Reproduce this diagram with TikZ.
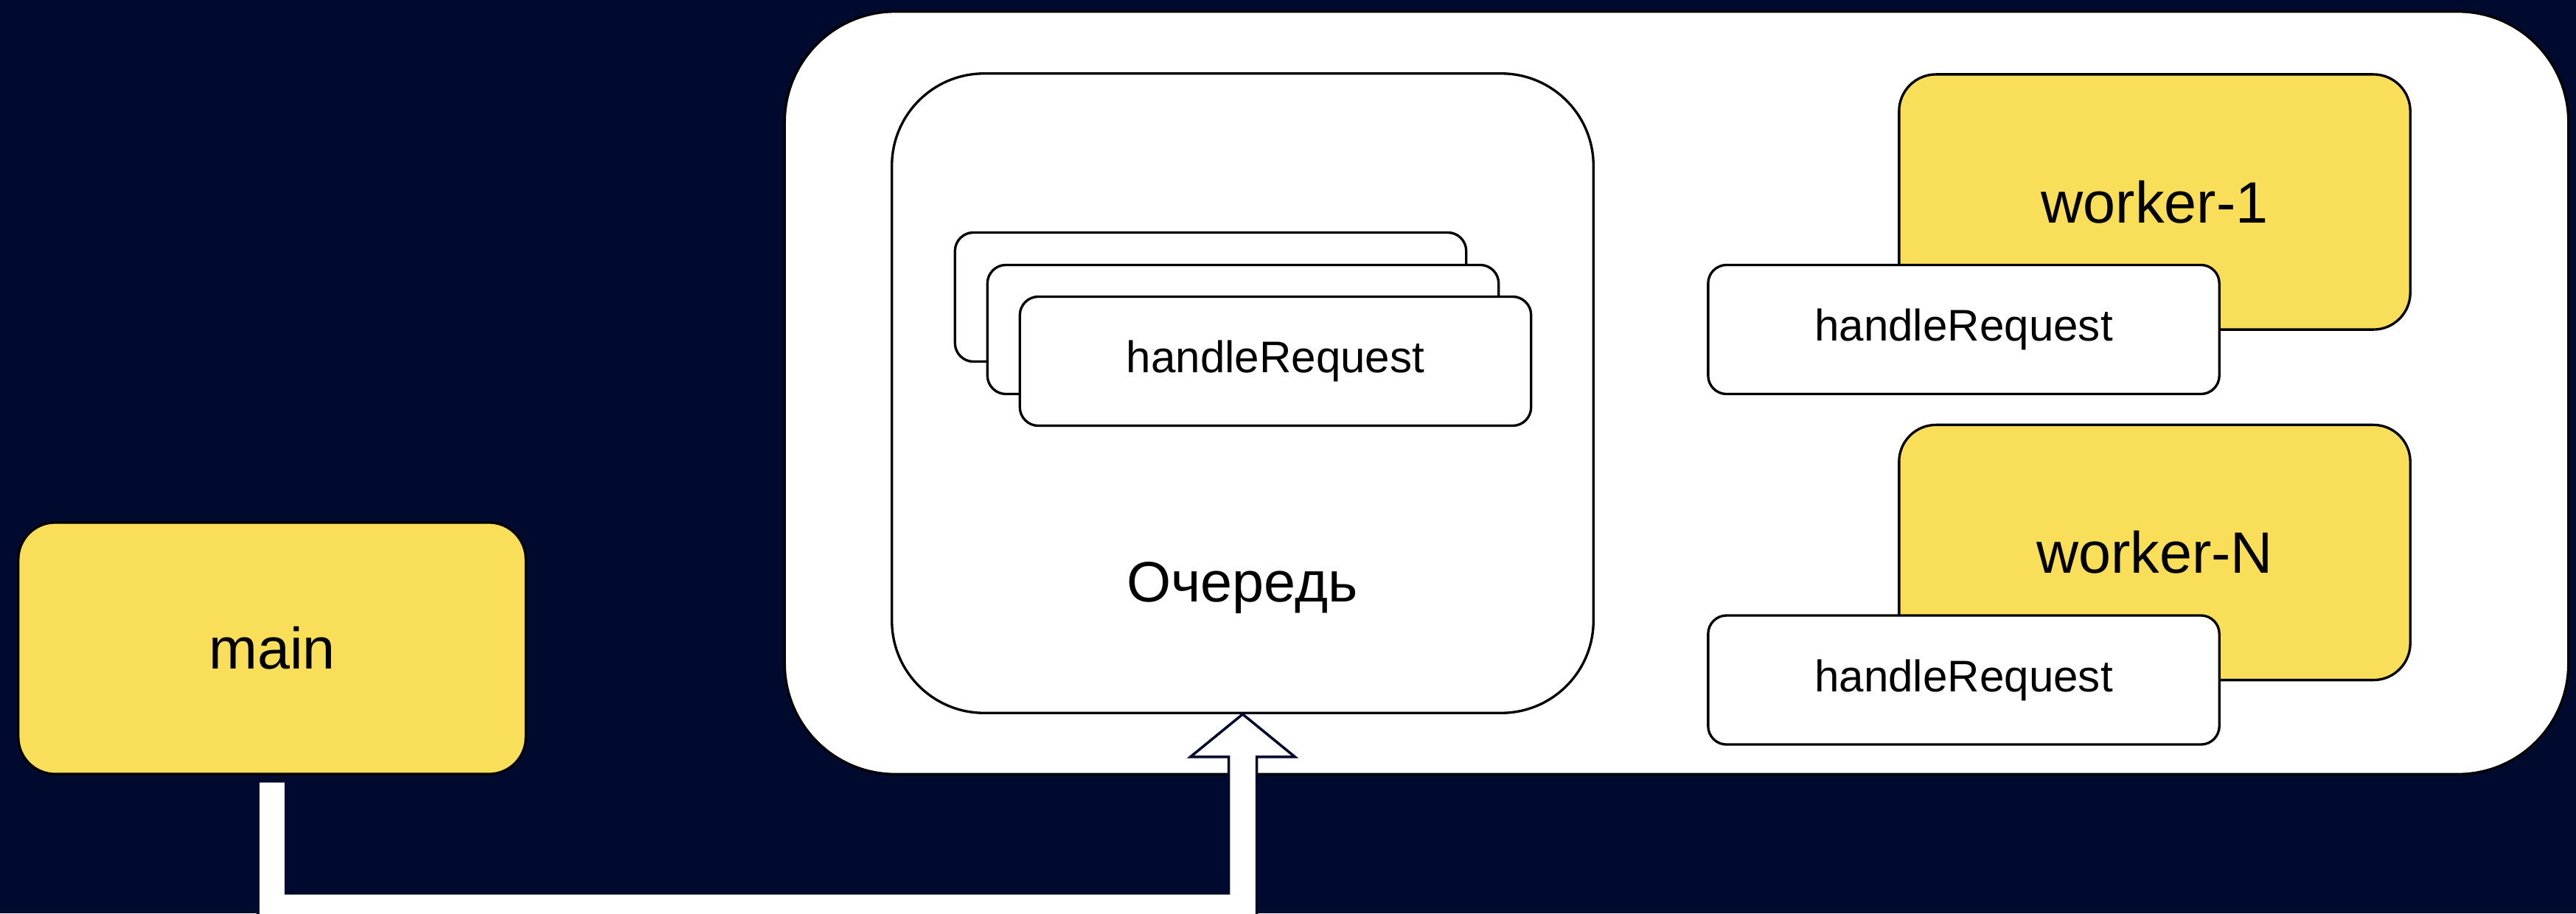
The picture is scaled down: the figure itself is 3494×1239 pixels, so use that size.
\documentclass[tikz,border=0pt]{standalone}
\usepackage{fontspec}
\setmainfont{Liberation Sans}
\usetikzlibrary{calc}
\definecolor{navy}{RGB}{0,10,46}
\definecolor{sun}{RGB}{249,222,89}
\begin{document}
\begin{tikzpicture}[x=0.01cm, y=-0.01cm, line width=0.95pt,
    panel/.style={draw=black, fill=white, rounded corners=1.5cm, minimum width=24.18cm, minimum height=10.34cm},
    queuebox/.style={draw=black, fill=white, rounded corners=1.25cm, minimum width=9.51cm, minimum height=8.67cm},
    card/.style={draw=black, fill=white, rounded corners=0.25cm, minimum width=6.93cm, minimum height=1.75cm, font=\fontsize{17.1}{20}\selectfont},
    thread/.style={draw=black, fill=sun, rounded corners=0.5cm, minimum width=6.93cm, minimum height=3.46cm, font=\fontsize{22.5}{26}\selectfont},
    flow/.style={draw=navy, fill=white, line width=1pt, line join=miter}]
    \useasboundingbox (0,0) rectangle (3494,1239);
    \fill[navy] (0,0) rectangle (3494,1239);
    \node[panel] (area) at (2274,533) {};
    % queue with stacked requests
    \node[queuebox] (queue) at (1685.5,533.5) {};
    \node[card] (req3) at (1642,403) {};
    \node[card] (req2) at (1686,447) {};
    \node[card] (req1) at (1730,490) {handleRequest};
    \node[font=\fontsize{22}{26}\selectfont] (queuetitle) at (1685,798) {Очередь};
    % workers
    \node[thread] (w1) at (2922.5,274) {worker-1};
    \node[card] (w1req) at (2663.5,447) {handleRequest};
    \node[thread] (wn) at (2922.5,749.5) {worker-N};
    \node[card] (wnreq) at (2663.5,922.5) {handleRequest};
    \node[thread, minimum width=6.88cm, minimum height=3.41cm] (main) at (369,879.5) {main};
    % main -> queue
    \draw[flow] ($(main.south)+(-19,8)$) -- ++(0,222) -| ($(queue.south)+(19,58)$) -- ++(52,0)
        -- (queue.south) -- ++(-71,58) -- ++(52,0) |- ($(main.south)+(19,160)$) -- ($(main.south)+(19,8)$) -- cycle;
\end{tikzpicture}
\end{document}
